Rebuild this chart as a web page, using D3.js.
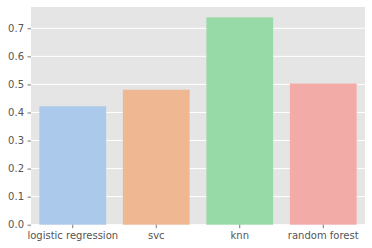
<!DOCTYPE html>
<html>
<head>
<meta charset="utf-8">
<script src="https://cdn.jsdelivr.net/npm/d3@7"></script>
<style>
  body { margin: 0; background: #fff; }
  text { font-family: "DejaVu Sans", sans-serif; }
</style>
</head>
<body>
<svg id="chart" width="372" height="248"></svg>
<script>
const models = ["logistic regression", "svc", "knn", "random forest"];
const scores = [0.422, 0.481, 0.739, 0.503];
const barColors = ["#abc9ea", "#efb792", "#98daa7", "#f3aba8"];
const yTicks = [0, 0.1, 0.2, 0.3, 0.4, 0.5, 0.6, 0.7];

const plotLeft = 31, plotRight = 365, plotTop = 7, plotBottom = 224.7;
const svg = d3.select("#chart");

const x = d3.scaleBand()
  .domain(models)
  .range([plotLeft, plotRight])
  .paddingInner(0.2)
  .paddingOuter(0.1);

const y = d3.scaleLinear()
  .domain([0, d3.max(scores) * 1.05])
  .range([plotBottom, plotTop]);

// panel background
svg.append("rect")
  .attr("x", plotLeft)
  .attr("y", plotTop)
  .attr("width", plotRight - plotLeft)
  .attr("height", plotBottom - plotTop)
  .attr("fill", "#e5e5e5");

// white grid lines
svg.append("g")
  .selectAll("line")
  .data(yTicks)
  .enter()
  .append("line")
  .attr("x1", plotLeft)
  .attr("x2", plotRight)
  .attr("y1", (d) => y(d))
  .attr("y2", (d) => y(d))
  .attr("stroke", "#fff")
  .attr("stroke-width", 1);

// bars
svg.append("g")
  .selectAll("rect")
  .data(models)
  .enter()
  .append("rect")
  .attr("x", (d) => x(d))
  .attr("width", x.bandwidth())
  .attr("y", (d, i) => y(scores[i]))
  .attr("height", (d, i) => plotBottom - y(scores[i]))
  .attr("fill", (d, i) => barColors[i]);

// axes
const yAxis = svg.append("g")
  .attr("transform", `translate(${plotLeft},0)`)
  .call(d3.axisLeft(y).tickValues(yTicks).tickFormat(d3.format(".1f")).tickSize(3.5).tickPadding(3.5));

const xAxis = svg.append("g")
  .attr("transform", `translate(0,${plotBottom})`)
  .call(d3.axisBottom(x).tickSize(3.5).tickPadding(3.5));

[yAxis, xAxis].forEach((ax) => {
  ax.select(".domain").remove();
  ax.selectAll(".tick line").attr("stroke", "#555").attr("stroke-width", 0.8);
  ax.selectAll(".tick text")
    .attr("fill", "#555")
    .style("font-size", "10px")
    .style("font-family", "DejaVu Sans, sans-serif");
});
</script>
</body>
</html>
